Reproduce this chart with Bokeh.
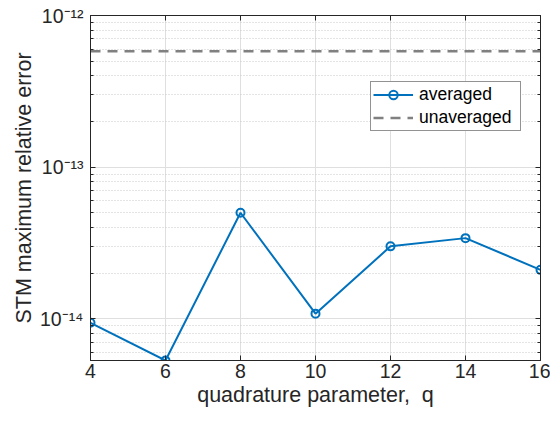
from bokeh.plotting import figure
from bokeh.models import (Range1d, FixedTicker, LogAxis, LinearAxis, Legend, LegendItem,
                          CustomJSTickFormatter)
from bokeh.embed import file_html
from bokeh.resources import INLINE

# ---- data ----
q = [4, 6, 8, 10, 12, 14, 16]
averaged = [9.4e-15, 5.3e-15, 5.0e-14, 1.08e-14, 3.0e-14, 3.4e-14, 2.1e-14]
unaveraged = 5.8e-13
x_ticks = [4, 6, 8, 10, 12, 14, 16]
y_ticks = [1e-14, 1e-13, 1e-12]
y_tick_labels = ["10\u207b\u00b9\u2074", "10\u207b\u00b9\u00b3", "10\u207b\u00b9\u00b2"]
y_minor = [m * 10.0 ** e for e in (-15, -14, -13) for m in range(2, 10)]

FONT = "Liberation Sans"
AX = "#262626"
BLUE = "#0072BD"

p = figure(width=550, height=421, output_backend="svg", toolbar_location=None,
           y_axis_type="log", x_range=Range1d(q[0], q[-1]),
           y_range=Range1d(min(averaged), 1e-12),
           min_border_left=90, min_border_right=10, min_border_top=15, min_border_bottom=61)
p.background_fill_color = "white"
p.border_fill_color = "white"
p.outline_line_color = AX
p.outline_line_width = 1

yt = FixedTicker(ticks=y_ticks, minor_ticks=y_minor)
xt = FixedTicker(ticks=x_ticks, minor_ticks=[])

# x axis
xa = p.xaxis[0]
xa.ticker = xt
xa.axis_label = "quadrature parameter, \u00a0q"
xa.axis_label_text_font = FONT
xa.axis_label_text_font_style = "normal"
xa.axis_label_text_font_size = "21.5px"
xa.axis_label_text_color = AX
xa.axis_label_standoff = 2
xa.major_label_text_font = FONT
xa.major_label_text_font_size = "19.5px"
xa.major_label_text_color = AX
xa.major_label_standoff = 3
xa.major_tick_in = 5
xa.major_tick_out = 0
xa.minor_tick_in = 0
xa.minor_tick_out = 0
xa.axis_line_color = AX
xa.major_tick_line_color = AX

# y axis
ya = p.yaxis[0]
ya.ticker = yt
ya.major_label_overrides = dict(zip(y_ticks, y_tick_labels))
ya.major_label_text_font = FONT
ya.major_label_text_font_size = "19.5px"
ya.major_label_text_color = AX
ya.major_label_standoff = 7
ya.axis_label = "STM maximum relative error"
ya.axis_label_text_font = FONT
ya.axis_label_text_font_style = "normal"
ya.axis_label_text_font_size = "21.5px"
ya.axis_label_text_color = AX
ya.axis_label_standoff = 1
ya.major_tick_in = 5
ya.major_tick_out = 0
ya.minor_tick_in = 3
ya.minor_tick_out = 0
ya.axis_line_color = AX
ya.major_tick_line_color = AX
ya.minor_tick_line_color = AX

# box axes (top/right) with ticks only
ra = LogAxis(ticker=yt, formatter=CustomJSTickFormatter(code="return ''"),
             major_tick_in=5, major_tick_out=0, minor_tick_in=3, minor_tick_out=0,
             axis_line_color=AX, major_tick_line_color=AX, minor_tick_line_color=AX,
             major_label_standoff=0)
p.add_layout(ra, "right")
ta = LinearAxis(ticker=xt, formatter=CustomJSTickFormatter(code="return ''"),
                major_tick_in=5, major_tick_out=0, minor_tick_in=0, minor_tick_out=0,
                axis_line_color=AX, major_tick_line_color=AX, major_label_standoff=0)
p.add_layout(ta, "above")

# grids
p.xgrid.ticker = xt
p.xgrid.grid_line_color = "#dfdfdf"
p.xgrid.grid_line_width = 1
p.ygrid.ticker = yt
p.ygrid.grid_line_color = "#dfdfdf"
p.ygrid.grid_line_width = 1
p.ygrid.minor_grid_line_color = "#c8c8c8"
p.ygrid.minor_grid_line_dash = "1 2"
p.ygrid.minor_grid_line_width = 1

# data
dash_r = p.line(x=[q[0], q[-1]], y=[unaveraged, unaveraged], line_color="#808080",
                line_width=2.5, line_dash="10 7")
line_r = p.line(q, averaged, line_color=BLUE, line_width=2)
pts_r = p.scatter(q, averaged, marker="circle", size=8, line_color=BLUE, line_width=2,
                  fill_color=None)

legend = Legend(items=[LegendItem(label="averaged", renderers=[line_r, pts_r]),
                       LegendItem(label="unaveraged", renderers=[dash_r])],
                location=(280, 229), orientation="vertical",
                label_text_font=FONT, label_text_font_size="17.5px", label_text_color="black",
                border_line_color=AX, border_line_width=1, background_fill_color="white",
                background_fill_alpha=1, glyph_width=40, label_standoff=6, padding=2,
                spacing=2, margin=0, label_height=21, glyph_height=21, label_width=99)
p.add_layout(legend, "center")

open("out.html", "w").write(file_html(p, INLINE))
